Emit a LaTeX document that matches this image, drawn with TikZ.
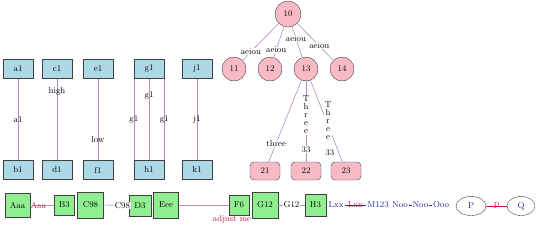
\documentclass[tikz,border=0pt]{standalone}
\usepackage{xcolor}
\usepackage{tikz}
\usetikzlibrary{arrows.meta, positioning, shapes.geometric}
\definecolor{boxblue}{RGB}{173,216,230}
\definecolor{treepink}{RGB}{248,187,198}
\definecolor{boxgreen}{RGB}{144,238,144}
\definecolor{linkpurple}{RGB}{176,140,204}
\definecolor{textnavy}{RGB}{40,40,150}
\definecolor{labelred}{RGB}{200,30,60}

\begin{document}
\begin{tikzpicture}[x=1pt, y=-1pt, font=\fontsize{8.6pt}{10pt}\selectfont,
  bluebox/.style={draw=black!75, fill=boxblue, minimum width=30pt, minimum height=19pt, inner sep=1pt},
  greenbox/.style={draw=black!75, fill=boxgreen, inner sep=1pt},
  treenode/.style={circle, draw=black!75, fill=treepink, inner sep=0pt, minimum size=24pt},
  leafbox/.style={draw=black!75, fill=treepink, rounded corners=4pt, minimum width=30pt, minimum height=18pt, inner sep=1pt},
  oval/.style={ellipse, draw=black!75, text=textnavy, minimum width=30pt, minimum height=19pt, inner sep=0pt},
  link/.style={draw=linkpurple, line width=0.6pt},
  tag/.style={inner sep=1pt},
  wtag/.style={fill=white, inner sep=0.5pt}]
  \useasboundingbox (0,0) rectangle (540,226);

  % upper row of blue boxes
  \node[bluebox] (a1) at (18,69) {a1};
  \node[bluebox] (c1) at (57,69) {c1};
  \node[bluebox] (e1) at (98,69) {e1};
  \node[bluebox] (g1) at (149,69) {g1};
  \node[bluebox] (j1) at (197,69) {j1};
  \node[bluebox] (b1) at (18,170) {b1};
  \node[bluebox] (d1) at (57,170) {d1};
  \node[bluebox] (f1) at (98,170) {f1};
  \node[bluebox] (h1) at (149,170) {h1};
  \node[bluebox] (k1) at (197,170) {k1};
  \draw[link] (a1) -- node[tag] {a1} (b1);
  \draw[link] (c1) -- node[tag, pos=0.15] {high} (d1);
  \draw[link] (e1) -- node[tag, pos=0.75] {low} (f1);
  \draw[link] (g1.south west) -- node[tag] {g1} (h1.north west);
  \draw[link] (g1) -- node[tag, pos=0.2] {g1} (h1);
  \draw[link] (g1.south east) -- node[tag] {g1} (h1.north east);
  \draw[link] (j1) -- node[tag] {j1} (k1);

  % tree
  \node[treenode, minimum size=26pt] (n10) at (288,14) {10};
  \node[treenode] (n11) at (234,69) {11};
  \node[treenode] (n12) at (270,69) {12};
  \node[treenode] (n13) at (306,69) {13};
  \node[treenode] (n14) at (342,69) {14};
  \node[leafbox] (n21) at (265,171) {21};
  \node[leafbox] (n22) at (306,171) {22};
  \node[leafbox] (n23) at (346,171) {23};
  \draw[link] (n10) -- node[wtag, pos=0.77] {aeiou} (n11);
  \draw[link] (n10) -- node[wtag, pos=0.76] {aeiou} (n12);
  \draw[link] (n10) -- node[wtag, pos=0.38] {aeiou} (n13);
  \draw[link] (n10) -- node[wtag, pos=0.61] {aeiou} (n14);
  \draw[link] (n13) -- node[wtag, pos=0.77] {three} (n21);
  \draw[link] (n13) -- node[wtag, pos=0.42, align=center] {T\\[-2pt]h\\[-2pt]r\\[-2pt]e\\[-2pt]e}
    node[wtag, pos=0.85] {33} (n22);
  \draw[link] (n13) -- node[wtag, pos=0.49, xshift=2pt, align=center] {T\\[-2pt]h\\[-2pt]r\\[-2pt]e\\[-2pt]e}
    node[wtag, pos=0.89, xshift=-9pt] {33} (n23);

  % bottom row
  \node[greenbox, minimum width=25pt, minimum height=24pt] (aaa) at (17.5,205) {Aaa};
  \node[greenbox, minimum size=20pt] (b3) at (64.5,205) {B3};
  \node[greenbox, minimum size=26pt] (c98) at (90.5,205) {C98};
  \node[greenbox, minimum width=22pt, minimum height=21pt] (d3) at (140,205.5) {D3};
  \node[greenbox, minimum width=25pt, minimum height=26pt] (eee) at (166,205) {Eee};
  \node[greenbox, minimum size=20pt,
    label={[text=labelred, inner sep=0.5pt, xshift=-7pt]below:adjust me}] (f6) at (239,205) {F6};
  \node[greenbox, minimum size=26pt] (g12) at (265,205) {G12};
  \node[greenbox, minimum width=21pt, minimum height=22pt] (h3) at (315.5,205) {H3};
  \node[text=textnavy, inner sep=1pt] (lxx) at (336,205) {Lxx};
  \node[text=textnavy, inner sep=1pt] (m123) at (378,205) {M123};
  \node[text=textnavy, inner sep=1pt] (noo) at (400,205) {Noo};
  \node[text=textnavy, inner sep=1pt] (ooo) at (441,205) {Ooo};
  \node[oval] (p) at (471,206) {P};
  \node[oval, minimum width=28pt] (q) at (521,206) {Q};
  \draw[link] (aaa) -- node[pos=0, anchor=west, inner sep=0pt, text=labelred] {Aaa} (b3);
  \draw[link] (c98) -- node[pos=1, anchor=east, xshift=2pt, fill=white, inner sep=0.5pt] {C98} (d3);
  \draw[link] (eee) -- (f6);
  \draw[link] (g12) -- node[wtag] {G12} (h3);
  \draw[textnavy] (lxx) -- node[inner sep=0pt, text=labelred] {Lxx} (m123);
  \draw[textnavy] (noo) -- node[wtag] {Noo} (ooo);
  \draw[labelred] (p) -- node[inner sep=0pt, text=labelred] {P} (q);
\end{tikzpicture}
\end{document}
